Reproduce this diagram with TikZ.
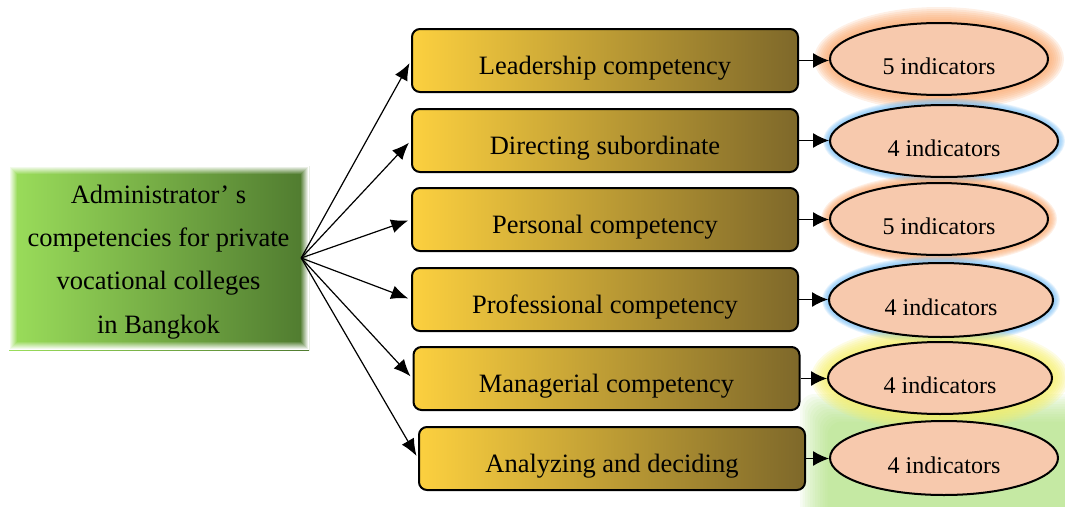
\documentclass[tikz,border=0pt]{standalone}
\usepackage{fontspec}
\setmainfont{Liberation Serif}
\usetikzlibrary{arrows.meta,shapes.geometric}

\definecolor{goldL}{RGB}{252,208,63}
\definecolor{goldM}{RGB}{222,179,67}
\definecolor{goldR}{RGB}{126,104,42}
\definecolor{greenL}{RGB}{155,222,91}
\definecolor{greenR}{RGB}{79,122,47}
\definecolor{peach}{RGB}{247,201,173}
\definecolor{glowOrange}{RGB}{250,165,105}
\definecolor{glowBlue}{RGB}{120,190,245}
\definecolor{glowYellow}{RGB}{245,238,100}
\definecolor{glowGreen}{RGB}{170,222,120}

% soft halo around an ellipse: centre x, centre y, radii, colour, spread
\newcommand\halo[6]{%
  \foreach \k in {1,...,8}{%
    \fill[#5, opacity=0.17] (#1,#2) ellipse [x radius={#3+\k*#6/8}, y radius={#4+\k*#6/8}];
  }%
}

\tikzset{
  stagebox/.style={draw=black, line width=2pt, rounded corners=8pt,
    left color=goldL, middle color=goldM, right color=goldR,
    minimum width=386pt, minimum height=63pt, inner sep=0pt,
    text height=27pt, text depth=0pt, font=\fontsize{26.5}{30}\selectfont},
  countell/.style={ellipse, draw=black, line width=2pt, fill=peach,
    minimum height=72pt, inner sep=0pt,
    text height=30pt, text depth=0pt, font=\fontsize{24}{28}\selectfont},
  fanarrow/.style={-{Latex[length=17pt,width=14pt]}, line width=1.2pt, shorten >=3pt},
  linkarrow/.style={-{Latex[length=16pt,width=15pt]}, line width=1.2pt},
}

\begin{document}
\begin{tikzpicture}[x=1pt,y=-1pt]
\useasboundingbox (0,0) rectangle (1065,506);

% source block: shaded panel whose border fades into the page
\fill[left color=greenL, right color=greenR] (9,166) rectangle (309,350);
\foreach \k in {0,...,7}{
  \draw[white, opacity={1-\k/8}, line width=1.05pt]
    ({9.5+\k},{166.5+\k}) rectangle ({308.5-\k},{349.5-\k});
}

% halos behind the indicator ellipses
\foreach \k in {0,...,11}{
  \fill[glowGreen, opacity=0.09, rounded corners=14pt]
    ({800+\k*2.5},{394+\k*2.5}) rectangle (1085,526);
}
\halo{939}{59}{109}{36}{glowOrange}{16}
\halo{944}{141}{114}{36}{glowBlue}{7}
\halo{939}{219}{109}{36}{glowOrange}{9}
\halo{941}{300}{112}{37}{glowBlue}{7}
\halo{940}{378}{112}{36}{glowYellow}{17}

% source text
\node[minimum width=285pt, minimum height=170pt, inner sep=0pt, align=center,
      font=\fontsize{26.5}{43.3}\selectfont]
  (src) at (158.5,262) {Administrator’ s\\competencies for private\\vocational colleges\\in Bangkok};

% competency boxes
\node[stagebox] (b1) at (605,60.5)   {Leadership competency};
\node[stagebox] (b2) at (605,140.5)  {Directing subordinate};
\node[stagebox] (b3) at (605,219.5)  {Personal competency};
\node[stagebox] (b4) at (605,299.5)  {Professional competency};
\node[stagebox] (b5) at (606.5,378.5){Managerial competency};
\node[stagebox] (b6) at (612,458.5)  {Analyzing and deciding};

% indicator ellipses
\node[countell, minimum width=218pt] (e1) at (939,59)  {5 indicators};
\node[countell, minimum width=228pt] (e2) at (944,141) {4 indicators};
\node[countell, minimum width=218pt] (e3) at (939,219) {5 indicators};
\node[countell, minimum width=224pt, minimum height=74pt] (e4) at (941,300) {4 indicators};
\node[countell, minimum width=224pt] (e5) at (940,378) {4 indicators};
\node[countell, minimum width=228pt, minimum height=74pt] (e6) at (944,458) {4 indicators};

% fan of arrows from the source block
\coordinate (fan) at ([yshift=4pt]src.east);
\foreach \b in {b1,b2,b3,b4,b5,b6}{
  \draw[fanarrow] (fan) -- (\b.west);
}

% box to ellipse links
\foreach \b/\e in {b1/e1,b2/e2,b3/e3,b4/e4,b5/e5,b6/e6}{
  \draw[linkarrow] (\b.east) -- (\b.east -| \e.west);
}
\end{tikzpicture}
\end{document}
